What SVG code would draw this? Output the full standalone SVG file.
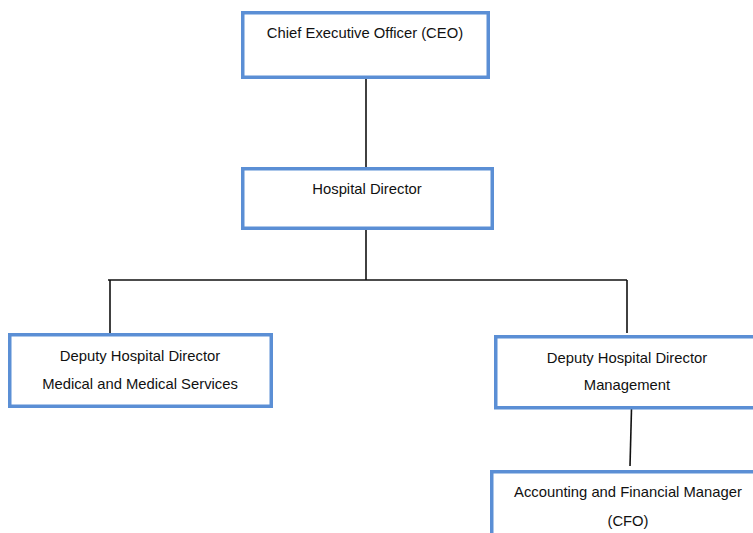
<svg xmlns="http://www.w3.org/2000/svg" width="753" height="533" viewBox="0 0 753 533">
<style>
.box{fill:#fff;stroke:#5b8fd5;stroke-width:3.5}
.t{font-family:"Liberation Sans",Arial,sans-serif;font-size:14.8px;fill:#111;text-anchor:middle}
.c{stroke:#111;stroke-width:1.6;fill:none}
</style>
<rect width="753" height="533" fill="#fff"/>
<g id="connectors">
<line class="c" x1="366" y1="79" x2="366" y2="167"/>
<line class="c" x1="366" y1="230" x2="366" y2="280"/>
<line class="c" x1="108" y1="280" x2="627" y2="280"/>
<line class="c" x1="110" y1="280" x2="110" y2="333"/>
<line class="c" x1="627" y1="280" x2="627" y2="333"/>
<line class="c" x1="631.5" y1="409" x2="630" y2="466"/>
</g>
<g id="ceo">
<rect class="box" x="242.75" y="12.75" width="245.5" height="64.5"/>
<text class="t" x="365" y="38">Chief Executive Officer (CEO)</text>
</g>
<g id="hospital-director">
<rect class="box" x="242.75" y="168.75" width="249.5" height="59.5"/>
<text class="t" x="367" y="194">Hospital Director</text>
</g>
<g id="deputy-medical">
<rect class="box" x="9.75" y="334.75" width="261.5" height="71.5"/>
<text class="t" x="140" y="361">Deputy Hospital Director</text>
<text class="t" x="140" y="389">Medical and Medical Services</text>
</g>
<g id="deputy-management">
<rect class="box" x="495.75" y="336.75" width="270" height="71"/>
<text class="t" x="627" y="363">Deputy Hospital Director</text>
<text class="t" x="627" y="390">Management</text>
</g>
<g id="cfo">
<rect class="box" x="491.75" y="471.75" width="275" height="80"/>
<text class="t" x="628" y="497">Accounting and Financial Manager</text>
<text class="t" x="628" y="526">(CFO)</text>
</g>
</svg>
